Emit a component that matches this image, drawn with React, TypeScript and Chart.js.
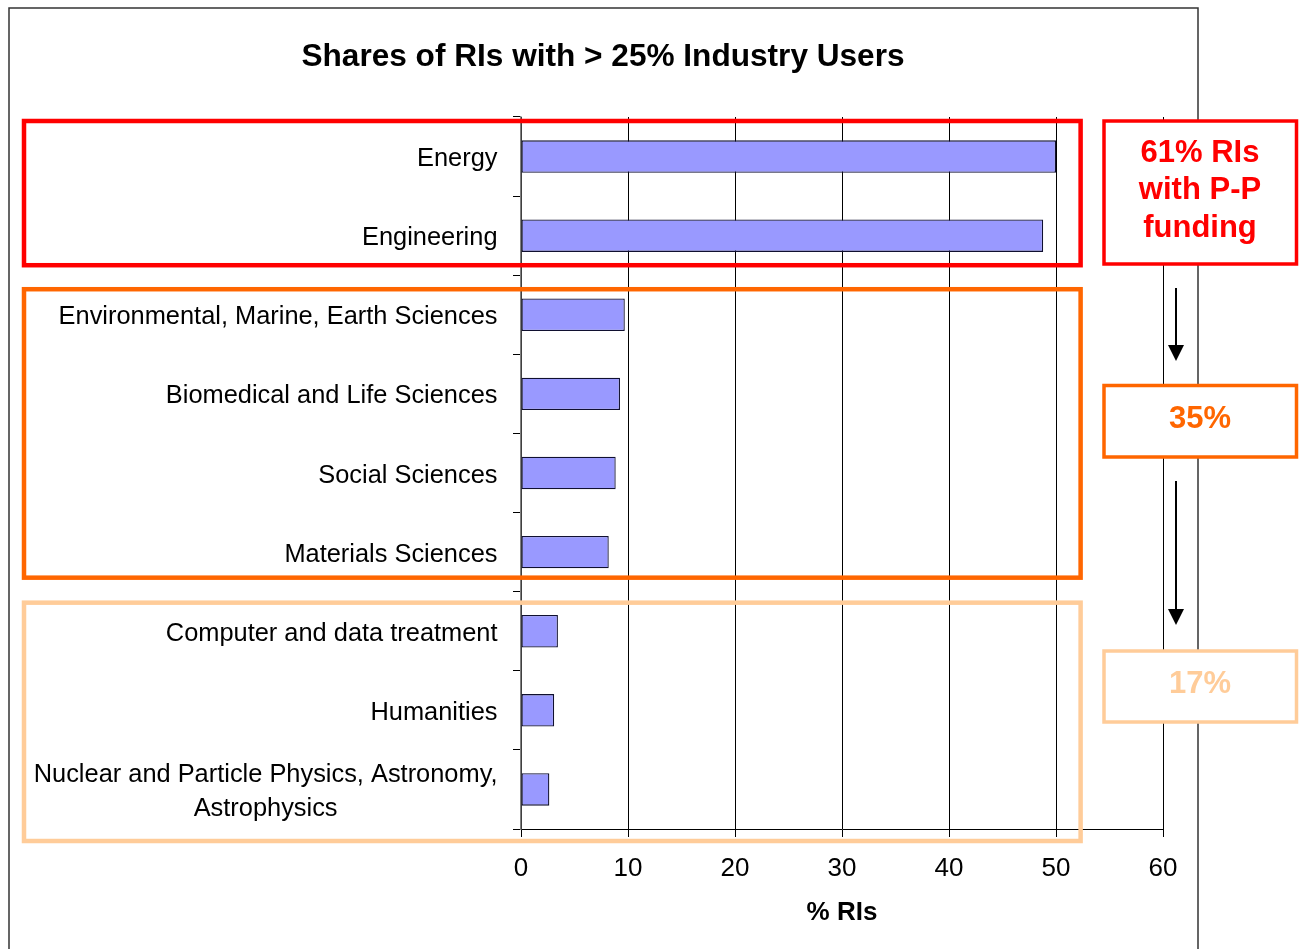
import React, { useEffect, useRef } from "react";
import { Chart, registerables } from "chart.js";

Chart.register(...registerables);

const chartTitle = "Shares of RIs with > 25% Industry Users";
const axisTitle = "% RIs";
const categories: (string | string[])[] = [
  "Energy",
  "Engineering",
  "Environmental, Marine, Earth Sciences",
  "Biomedical and Life Sciences",
  "Social Sciences",
  "Materials Sciences",
  "Computer and data treatment",
  "Humanities",
  ["Nuclear and Particle Physics, Astronomy,", "Astrophysics"],
];
const values = [50, 48.8, 9.7, 9.25, 8.85, 8.2, 3.45, 3.1, 2.65];
const xTicks = [0, 10, 20, 30, 40, 50, 60];

const groupStart = [0, 2, 6];
const groupEnd = [1, 5, 8];
const groupColors = ["#FF0000", "#FF6600", "#FFCC99"];
const groupTexts = [["61% RIs", "with P-P", "funding"], ["35%"], ["17%"]];

const FONT = "'Liberation Sans', Arial, sans-serif";

const decorPlugin = {
  id: "decor",
  beforeDraw(chart: any) {
    const ctx = chart.ctx;
    ctx.save();
    ctx.fillStyle = "#ffffff";
    ctx.fillRect(0, 0, chart.width, chart.height);
    // outer frame
    ctx.strokeStyle = "#333333";
    ctx.lineWidth = 1.5;
    ctx.beginPath();
    ctx.moveTo(9, chart.height);
    ctx.lineTo(9, 8);
    ctx.lineTo(1198, 8);
    ctx.lineTo(1198, chart.height);
    ctx.stroke();
    // title
    ctx.fillStyle = "#000";
    ctx.font = `bold 31.6px ${FONT}`;
    ctx.textAlign = "center";
    ctx.textBaseline = "alphabetic";
    ctx.fillText(chartTitle, 603, 66);
    ctx.restore();
  },
  afterDraw(chart: any) {
    const ctx = chart.ctx;
    const y = chart.scales.y;
    const x = chart.scales.x;
    const area = chart.chartArea;
    ctx.save();
    // category labels
    ctx.fillStyle = "#000";
    ctx.font = `25.4px ${FONT}`;
    ctx.textBaseline = "middle";
    ctx.textAlign = "center";
    categories.forEach((lab, i) => {
      const lines = Array.isArray(lab) ? lab : [lab];
      const cy = y.getPixelForValue(i) + 2.5;
      const widths = lines.map((l) => ctx.measureText(l).width);
      const maxW = Math.max(...widths);
      const cx = area.left - 23.5 - maxW / 2;
      const lh = 33.5;
      lines.forEach((l, j) => {
        ctx.fillText(l, cx, cy + (j - (lines.length - 1) / 2) * lh);
      });
    });
    // axis title
    ctx.font = `bold 26px ${FONT}`;
    ctx.fillText(axisTitle, (area.left + area.right) / 2, 913);

    // group boxes (left)
    const half = (y.getPixelForValue(1) - y.getPixelForValue(0)) / 2;
    const boxTopOff = [4, 14, 11];
    const boxBotOff = [-10, -14, 12];
    const rightBoxes = [
      [121, 264],
      [385.5, 457],
      [651, 722],
    ];
    const baselines = [[162, 199, 237], [428], [693]];
    groupStart.forEach((s, g) => {
      const top = y.getPixelForValue(s) - half + boxTopOff[g];
      const bot = y.getPixelForValue(groupEnd[g]) + half + boxBotOff[g];
      ctx.strokeStyle = groupColors[g];
      ctx.lineWidth = 4.5;
      ctx.strokeRect(24, top, x.getPixelForValue(52.3) - 24, bot - top);
      // right box
      const [rt, rb] = rightBoxes[g];
      ctx.fillStyle = "#fff";
      ctx.fillRect(1104, rt, 192.5, rb - rt);
      ctx.lineWidth = 3.5;
      ctx.strokeRect(1104, rt, 192.5, rb - rt);
      ctx.fillStyle = groupColors[g];
      ctx.font = `bold 31px ${FONT}`;
      ctx.textAlign = "center";
      ctx.textBaseline = "alphabetic";
      groupTexts[g].forEach((t, j) => ctx.fillText(t, 1200, baselines[g][j]));
    });

    // arrows
    const arrows = [
      [288, 361],
      [481, 625],
    ];
    ctx.strokeStyle = "#000";
    ctx.fillStyle = "#000";
    ctx.lineWidth = 2;
    arrows.forEach(([a, b]) => {
      ctx.beginPath();
      ctx.moveTo(1176, a);
      ctx.lineTo(1176, b - 14);
      ctx.stroke();
      ctx.beginPath();
      ctx.moveTo(1168, b - 16);
      ctx.lineTo(1184, b - 16);
      ctx.lineTo(1176, b);
      ctx.closePath();
      ctx.fill();
    });
    ctx.restore();
  },
};

export default function App() {
  const ref = useRef<HTMLCanvasElement>(null);
  useEffect(() => {
    document.body.style.margin = "0";
    const chart = new Chart(ref.current as HTMLCanvasElement, {
      type: "bar",
      data: {
        labels: categories as any,
        datasets: [
          {
            data: values,
            backgroundColor: "#9999FF",
            borderColor: "#101030",
            borderWidth: 1.3,
            borderSkipped: false,
            barPercentage: 0.41,
            categoryPercentage: 1,
          },
        ],
      },
      options: {
        indexAxis: "y",
        responsive: false,
        animation: false,
        devicePixelRatio: 1,
        layout: { padding: { left: 0, right: 140, top: 117, bottom: 0 } },
        plugins: {
          legend: { display: false },
          title: { display: false },
          tooltip: { enabled: false },
        },
        scales: {
          x: {
            type: "linear",
            min: 0,
            max: 60,
            afterBuildTicks: (s: any) => {
              s.ticks = xTicks.map((v) => ({ value: v }));
            },
            afterFit: (s: any) => {
              s.height = 120;
            },
            ticks: {
              color: "#000",
              font: { family: FONT, size: 26 },
              padding: 16,
              maxRotation: 0,
            },
            grid: {
              color: "#000",
              lineWidth: 1,
              tickLength: 8,
              drawOnChartArea: true,
            },
            border: { display: true, color: "#000", width: 1 },
          },
          y: {
            type: "category",
            afterFit: (s: any) => {
              s.width = 521;
            },
            ticks: { display: false },
            grid: {
              color: "#000",
              lineWidth: 1,
              tickLength: 8,
              drawOnChartArea: false,
              drawTicks: true,
              offset: true,
            },
            border: { display: true, color: "#808080", width: 1.5 },
          },
        },
      },
      plugins: [decorPlugin],
    });
    return () => chart.destroy();
  }, []);
  return (
    <div style={{ position: "absolute", left: 0, top: 0, width: 1303, height: 949 }}>
      <canvas ref={ref} width={1303} height={949} style={{ display: "block" }} />
    </div>
  );
}
